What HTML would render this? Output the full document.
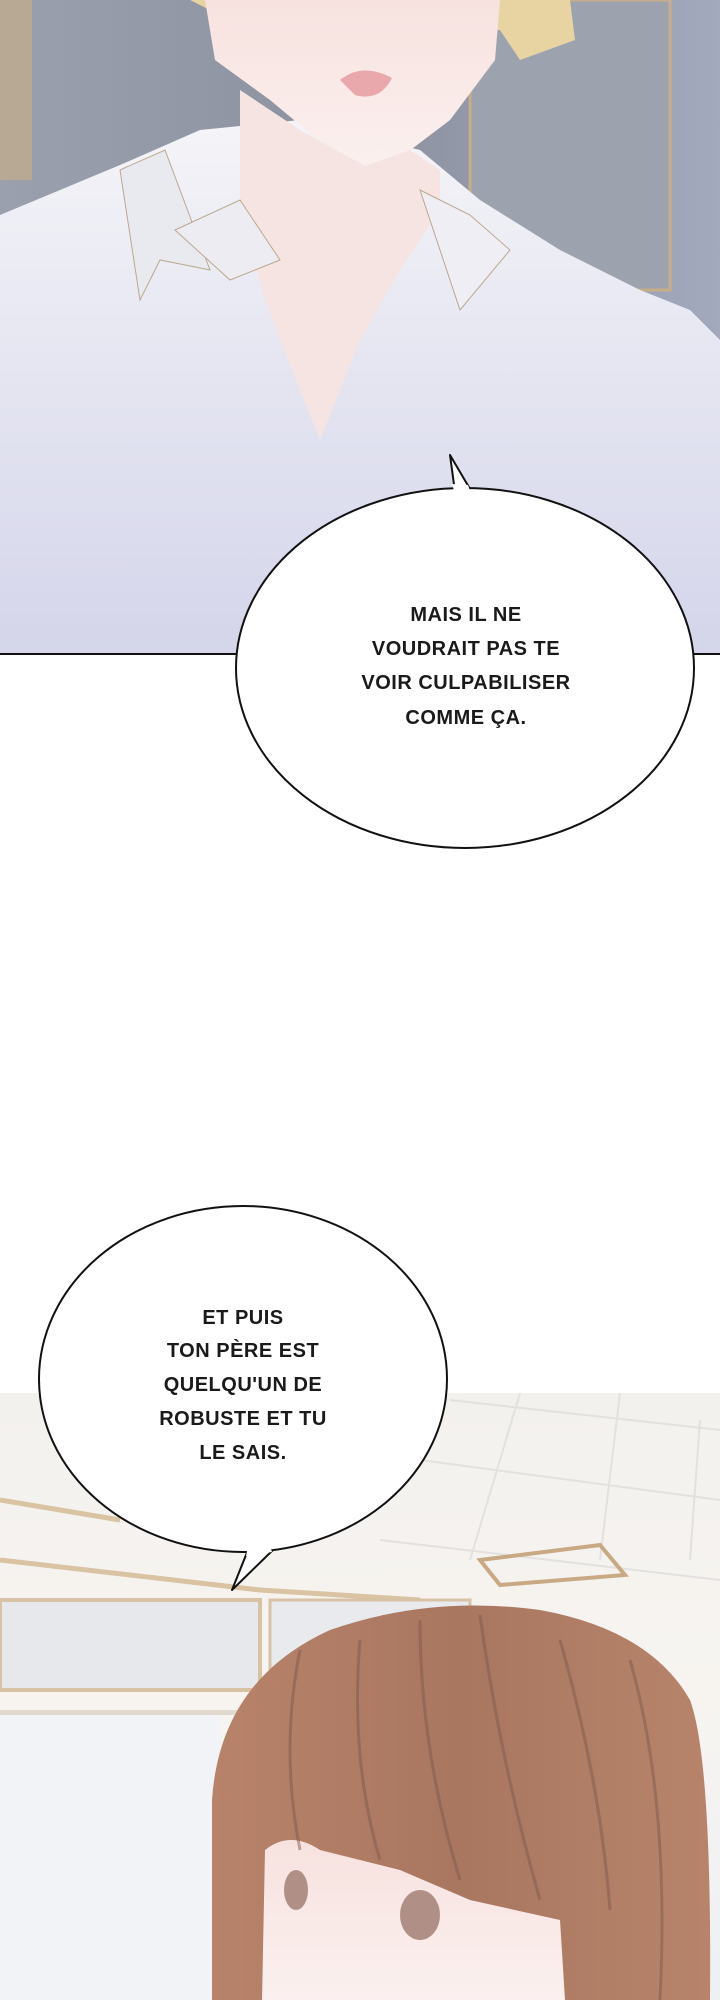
<!DOCTYPE html>
<html><head><meta charset="utf-8"><style>
html,body{margin:0;padding:0;background:#fff}
body{width:720px;height:2000px;overflow:hidden;position:relative}
svg{position:absolute;left:0;top:0}
.t{font-family:"Liberation Sans",sans-serif;font-weight:bold;font-size:20px;fill:#1a1a1a;text-anchor:middle;letter-spacing:0.5px}
</style></head><body>
<svg width="720" height="2000" viewBox="0 0 720 2000">
<defs>
<linearGradient id="bg1" x1="0" y1="0" x2="1" y2="0"><stop offset="0" stop-color="#9aa0ad"/><stop offset="0.5" stop-color="#8b919e"/><stop offset="1" stop-color="#a3a9bd"/></linearGradient>
<linearGradient id="shirt" x1="0" y1="0" x2="0" y2="1"><stop offset="0" stop-color="#f4f4f8"/><stop offset="1" stop-color="#d4d5ea"/></linearGradient>
<linearGradient id="skin" x1="0" y1="0" x2="0" y2="1"><stop offset="0" stop-color="#f7e2df"/><stop offset="1" stop-color="#fbf0ef"/></linearGradient>
<linearGradient id="ceil" x1="0" y1="0" x2="0" y2="1"><stop offset="0" stop-color="#f3f1ee"/><stop offset="0.5" stop-color="#f7f4f0"/><stop offset="1" stop-color="#eef0f4"/></linearGradient>
<linearGradient id="hair" x1="0" y1="0" x2="1" y2="0"><stop offset="0" stop-color="#b8836a"/><stop offset="0.5" stop-color="#a97660"/><stop offset="1" stop-color="#b7846b"/></linearGradient>
</defs>
<!-- top panel -->
<rect x="0" y="0" width="720" height="654" fill="url(#bg1)"/>
<rect x="0" y="0" width="32" height="180" fill="#b7a994"/>
<rect x="470" y="0" width="200" height="290" fill="#9da3ae" stroke="#c7ad8a" stroke-width="3"/>
<!-- shirt -->
<path d="M0 215 L120 165 L200 130 L300 120 L420 150 L480 200 L560 250 L640 290 L690 310 L720 340 L720 654 L0 654 Z" fill="url(#shirt)"/>
<!-- hair -->
<path d="M190 0 L570 0 L575 40 L520 60 L500 30 L250 30 Z" fill="#e8d3a2"/>
<!-- face -->
<path d="M205 0 L500 0 L495 60 L450 120 L400 158 L365 166 L330 150 L270 100 L215 60 Z" fill="url(#skin)"/>
<!-- neck V -->
<path d="M240 90 L300 130 L365 166 L410 150 L440 170 L440 210 L400 270 L360 340 L320 440 L300 390 L265 300 L240 210 Z" fill="#f6e4e2"/>
<path d="M340 80 Q362 62 392 78 Q380 102 355 95 Z" fill="#e8a8ac"/>
<!-- collars -->
<path d="M120 170 L165 150 L210 270 L160 260 L140 300 Z" fill="#e9e9f0" stroke="#bca88e" stroke-width="1"/>
<path d="M175 230 L240 200 L280 260 L230 280 Z" fill="#ececf2" stroke="#bca88e" stroke-width="1"/>
<path d="M420 190 L470 215 L510 250 L460 310 Z" fill="#eeeef4" stroke="#bca88e" stroke-width="1"/>
<line x1="0" y1="654" x2="720" y2="654" stroke="#111" stroke-width="2"/>
<!-- bottom panel -->
<rect x="0" y="1393" width="720" height="607" fill="url(#ceil)"/>
<g stroke="#e3e1df" stroke-width="2" fill="none">
<path d="M450 1400 L720 1430 M420 1460 L720 1500 M380 1540 L720 1580"/>
<path d="M520 1393 L470 1560 M620 1393 L600 1560 M700 1420 L690 1560"/>
</g>
<path d="M0 1500 L120 1520 M0 1560 L260 1590 L420 1600" stroke="#d9c3a3" stroke-width="5" fill="none"/>
<rect x="0" y="1600" width="260" height="90" fill="#e6e8ec" stroke="#d8c2a6" stroke-width="4"/>
<rect x="270" y="1600" width="200" height="100" fill="#e8eaee" stroke="#d8c2a6" stroke-width="3"/>
<path d="M480 1560 L600 1545 L625 1575 L500 1585 Z" fill="none" stroke="#c9a983" stroke-width="4"/>
<rect x="0" y="1710" width="220" height="290" fill="#f2f3f6"/>
<rect x="0" y="1710" width="240" height="5" fill="#e2d9ce"/>
<!-- hair -->
<path d="M212 1800 Q220 1680 330 1630 Q430 1595 540 1610 Q650 1630 690 1700 Q712 1760 710 2000 L212 2000 Z" fill="url(#hair)"/>
<path d="M262 2000 L265 1850 Q290 1830 320 1850 L400 1870 L470 1900 L560 1920 L565 2000 Z" fill="url(#skin)"/>
<g stroke="#7e5a4c" stroke-width="3" opacity="0.5" fill="none">
<path d="M300 1650 Q280 1750 300 1850 M360 1640 Q350 1760 380 1860 M420 1620 Q420 1750 460 1880 M480 1615 Q500 1760 540 1900 M560 1640 Q600 1780 610 1910 M630 1660 Q670 1800 660 2000"/>
</g>
<ellipse cx="296" cy="1890" rx="12" ry="20" fill="#b08f86"/>
<ellipse cx="420" cy="1915" rx="20" ry="25" fill="#b08f86"/>
<!-- bubble 1 -->
<path d="M450 455 L455 492 L470 489 Z" fill="#fff" stroke="#111" stroke-width="2" stroke-linejoin="round"/>
<ellipse cx="465" cy="668" rx="229" ry="180" fill="#fff" stroke="#111" stroke-width="2"/>
<path d="M452 484 L455 494 L470 491 L468 485 Z" fill="#fff"/>
<text class="t" x="466" y="621">MAIS IL NE</text>
<text class="t" x="466" y="655">VOUDRAIT PAS TE</text>
<text class="t" x="466" y="689">VOIR CULPABILISER</text>
<text class="t" x="466" y="724">COMME ÇA.</text>
<!-- bubble 2 -->
<path d="M232 1590 L250 1545 L275 1548 Z" fill="#fff" stroke="#111" stroke-width="2" stroke-linejoin="round"/>
<ellipse cx="243" cy="1379" rx="204" ry="173" fill="#fff" stroke="#111" stroke-width="2"/>
<path d="M248 1546 L270 1546 L272 1552 L246 1556 Z" fill="#fff"/>
<text class="t" x="243" y="1324">ET PUIS</text>
<text class="t" x="243" y="1357">TON PÈRE EST</text>
<text class="t" x="243" y="1391">QUELQU'UN DE</text>
<text class="t" x="243" y="1425">ROBUSTE ET TU</text>
<text class="t" x="243" y="1459">LE SAIS.</text>
</svg>
</body></html>
